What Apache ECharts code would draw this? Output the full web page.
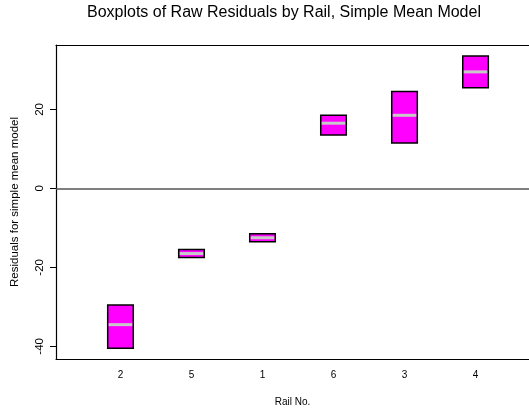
<!DOCTYPE html>
<html>
<head>
<meta charset="utf-8">
<script src="https://cdn.jsdelivr.net/npm/echarts@6/dist/echarts.min.js"></script>
<style>
  html, body { margin: 0; padding: 0; background: #fff; }
  #box01 { width: 529px; height: 412px; }
</style>
</head>
<body>
<div id="box01"></div>
<script>
// rails, in plotting order
var rails = ['2', '5', '1', '6', '3', '4'];
// box bottom / median / top
var lowerValues = [-40.5, -17.5, -13.5, 13.5, 11.5, 25.5];
var medianValues = [-34.5, -16.5, -12.5, 16.5, 18.5, 29.5];
var upperValues = [-29.5, -15.5, -11.5, 18.5, 24.5, 33.5];
var yTicks = [-40, -20, 0, 20];

var fontName = 'Liberation Sans, Arial, Helvetica, sans-serif';

var boxData = [];
for (var i = 0; i < rails.length; i++) {
    boxData.push([i + 1, lowerValues[i], medianValues[i], upperValues[i]]);
}

function renderBox(params, api) {
    var x = api.value(0);
    var halfW = 0.18;
    var pLow = api.coord([x - halfW, api.value(1)]);
    var pHigh = api.coord([x + halfW, api.value(3)]);
    var pMedL = api.coord([x - halfW, api.value(2)]);
    var pMedR = api.coord([x + halfW, api.value(2)]);
    return {
        type: 'group',
        children: [
            {
                type: 'rect',
                shape: {
                    x: pLow[0],
                    y: pHigh[1],
                    width: pHigh[0] - pLow[0],
                    height: pLow[1] - pHigh[1]
                },
                style: { fill: '#ff00ff', stroke: '#000', lineWidth: 1.5 }
            },
            {
                type: 'line',
                shape: { x1: pMedL[0] + 1, y1: pMedL[1], x2: pMedR[0] - 1, y2: pMedR[1] },
                style: { stroke: '#c8c8c8', lineWidth: 3 }
            }
        ]
    };
}

var myChart = echarts.init(document.getElementById('box01'));

var option = {
    animation: false,
    backgroundColor: '#fff',
    title: {
        text: 'Boxplots of Raw Residuals by Rail, Simple Mean Model',
        left: 87,
        top: 5,
        padding: 0,
        textStyle: { fontFamily: fontName, fontSize: 16, fontWeight: 'normal', color: '#000' }
    },
    grid: {
        left: 56,
        top: 45,
        bottom: 49,
        right: 0
    },
    xAxis: [
        {
            type: 'value',
            min: 0.092,
            max: 6.753,
            name: 'Rail No.',
            nameLocation: 'middle',
            nameGap: 38,
            nameTextStyle: { fontFamily: fontName, fontSize: 10, color: '#000' },
            axisLine: { show: true, onZero: false, lineStyle: { color: '#000', width: 1.2 } },
            axisTick: { show: false },
            splitLine: { show: false },
            axisLabel: {
                customValues: [1, 2, 3, 4, 5, 6],
                margin: 11,
                fontFamily: fontName,
                fontSize: 10,
                color: '#000',
                formatter: function (v) { return rails[Math.round(v) - 1]; }
            }
        },
        {
            // top edge of the frame
            type: 'value',
            position: 'top',
            min: 0.092,
            max: 6.753,
            axisLine: { show: true, onZero: false, lineStyle: { color: '#000', width: 1.2 } },
            axisTick: { show: false },
            axisLabel: { show: false },
            splitLine: { show: false }
        }
    ],
    yAxis: {
        type: 'value',
        min: -43.2,
        max: 36.3,
        name: 'Residuals for simple mean model',
        nameLocation: 'middle',
        nameRotate: 90,
        nameGap: 35,
        nameTextStyle: { fontFamily: fontName, fontSize: 11.5, color: '#000' },
        axisLine: { show: true, onZero: false, lineStyle: { color: '#000', width: 1.2 } },
        splitLine: { show: false },
        axisTick: {
            show: true,
            customValues: yTicks,
            length: 6,
            lineStyle: { color: '#000', width: 1 }
        },
        axisLabel: {
            customValues: yTicks,
            rotate: 90,
            margin: 10,
            fontFamily: fontName,
            fontSize: 11.5,
            color: '#000'
        }
    },
    series: [
        {
            type: 'custom',
            renderItem: renderBox,
            data: boxData,
            encode: { x: 0, y: [1, 2, 3] },
            markLine: {
                silent: true,
                symbol: 'none',
                label: { show: false },
                lineStyle: { color: '#555', width: 1.5, type: 'solid' },
                data: [{ yAxis: 0 }]
            }
        }
    ]
};

myChart.setOption(option);
</script>
</body>
</html>
